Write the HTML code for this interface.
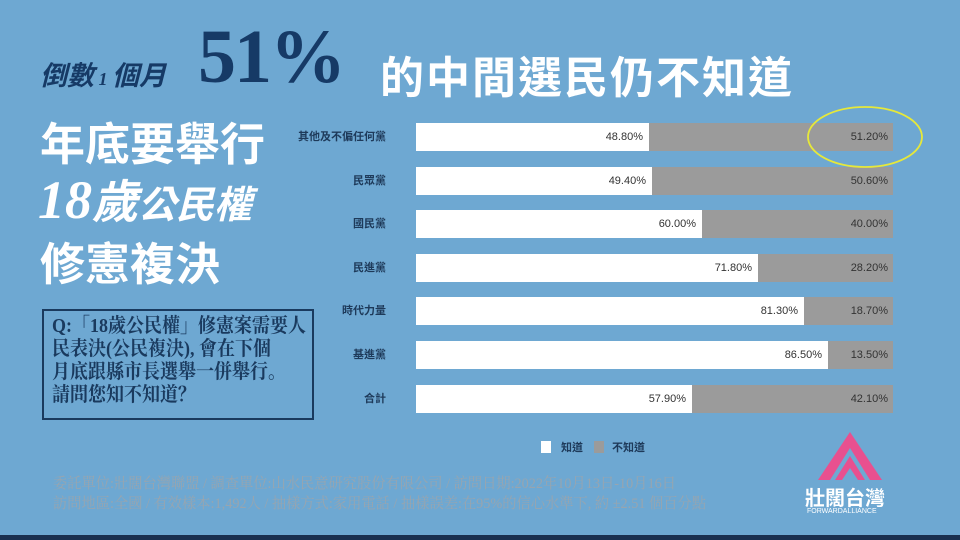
<!DOCTYPE html>
<html><head><meta charset="utf-8"><style>
body{margin:0;width:960px;height:540px;overflow:hidden;background:#6ea8d2;position:relative;font-family:"Liberation Sans","Noto Sans CJK TC",sans-serif}
.a{position:absolute;white-space:nowrap}
.lbl{position:absolute;right:574px;font-size:11px;color:#1e3a5a;font-weight:bold;line-height:28px}
.bar{position:absolute;left:416px;width:477px;height:28px;background:#9b9b9b}
.bar .w{position:absolute;left:0;top:0;height:28px;background:#fff}
.bar span{position:absolute;font-size:11px;line-height:28px;color:#333}
.w span{right:6px}
.g{right:5px}
.big{color:#fff;font-weight:bold;font-family:"Liberation Sans","Noto Sans CJK TC",sans-serif}
</style></head><body>
<div class="a" style="left:40px;top:54px;font-size:27px;font-weight:bold;font-style:italic;color:#163a66;font-family:'Liberation Serif','Noto Sans CJK TC',serif">倒數<span style="font-size:18px"> 1 </span>個月</div>
<div class="a" style="left:198px;top:14px;font-size:76px;font-weight:bold;color:#163a66;font-family:'Liberation Serif',serif;letter-spacing:-2px">51%</div>
<div class="a big" style="left:380px;top:42px;font-size:44px;letter-spacing:2px">的中間選民仍不知道</div>
<div class="a big" style="left:40px;top:108px;font-size:45px">年底要舉行</div>
<div class="a big" style="left:38px;top:166px;font-size:54px;font-style:italic;font-family:'Liberation Serif','Noto Sans CJK TC',serif">18<span style="font-size:46px;font-family:'Noto Sans CJK TC',sans-serif">歲</span><span style="font-size:38px;font-family:'Noto Sans CJK TC',sans-serif">公民權</span></div>
<div class="a big" style="left:40px;top:228px;font-size:45px">修憲複決</div>
<div class="a" style="left:42px;top:309px;width:268px;height:107px;border:2px solid #1a3a5e;"></div>
<div class="a" style="left:52px;top:315px;font-size:20px;line-height:23px;color:#1a3a5e;font-weight:bold;font-family:'Liberation Serif','Noto Serif CJK SC',serif;transform:scaleX(0.9);transform-origin:left top">Q:「18歲公民權」修憲案需要人<br>民表決(公民複決), 會在下個<br>月底跟縣市長選舉一併舉行。<br>請問您知不知道？</div>

<div class="lbl" style="top:123px">其他及不偏任何黨</div>
<div class="bar" style="top:123px"><div class="w" style="width:233px"><span>48.80%</span></div><span class="g">51.20%</span></div>
<div class="lbl" style="top:167px">民眾黨</div>
<div class="bar" style="top:167px"><div class="w" style="width:236px"><span>49.40%</span></div><span class="g">50.60%</span></div>
<div class="lbl" style="top:210px">國民黨</div>
<div class="bar" style="top:210px"><div class="w" style="width:286px"><span>60.00%</span></div><span class="g">40.00%</span></div>
<div class="lbl" style="top:254px">民進黨</div>
<div class="bar" style="top:254px"><div class="w" style="width:342px"><span>71.80%</span></div><span class="g">28.20%</span></div>
<div class="lbl" style="top:297px">時代力量</div>
<div class="bar" style="top:297px"><div class="w" style="width:388px"><span>81.30%</span></div><span class="g">18.70%</span></div>
<div class="lbl" style="top:341px">基進黨</div>
<div class="bar" style="top:341px"><div class="w" style="width:412px"><span>86.50%</span></div><span class="g">13.50%</span></div>
<div class="lbl" style="top:385px">合計</div>
<div class="bar" style="top:385px"><div class="w" style="width:276px"><span>57.90%</span></div><span class="g">42.10%</span></div>

<svg class="a" style="left:0;top:0" width="960" height="540">
<ellipse cx="865" cy="137" rx="57" ry="30" fill="none" stroke="#e6e83a" stroke-width="1.8"/>
<polygon points="850,432 882,480 818,480" fill="#e8508f"/>
<polygon points="850,448 870,480 830,480" fill="#6ea8d2"/>
<polygon points="850,456 865,480 835,480" fill="#e8508f"/>
<polygon points="850,468 858,480 842,480" fill="#6ea8d2"/>
<rect x="0" y="535" width="960" height="5" fill="#1a3050"/>
</svg>
<div class="a" style="left:541px;top:441px;width:10px;height:12px;background:#fff"></div>
<div class="a" style="left:561px;top:439px;font-size:11px;font-weight:bold;color:#1e3a5a">知道</div>
<div class="a" style="left:594px;top:441px;width:10px;height:12px;background:#9b9b9b"></div>
<div class="a" style="left:612px;top:439px;font-size:11px;font-weight:bold;color:#1e3a5a">不知道</div>
<div class="a" style="left:53px;top:474px;font-size:15px;line-height:20px;color:#97a5b0;font-family:'Liberation Serif','Noto Serif CJK SC',serif;transform:scaleX(0.95);transform-origin:left top">委託單位:壯闊台灣聯盟 / 調查單位:山水民意研究股份有限公司 / 訪問日期:2022年10月13日-10月16日<br>訪問地區:全國 / 有效樣本:1,492人 / 抽樣方式:家用電話 / 抽樣誤差:在95%的信心水準下, 約 ±2.51 個百分點</div>
<div class="a" style="left:805px;top:482px;font-size:20px;font-weight:bold;color:#fff">壯闊台灣</div>
<div class="a" style="left:807px;top:508px;font-size:7px;color:#fff">FORWARDALLIANCE</div>
</body></html>
